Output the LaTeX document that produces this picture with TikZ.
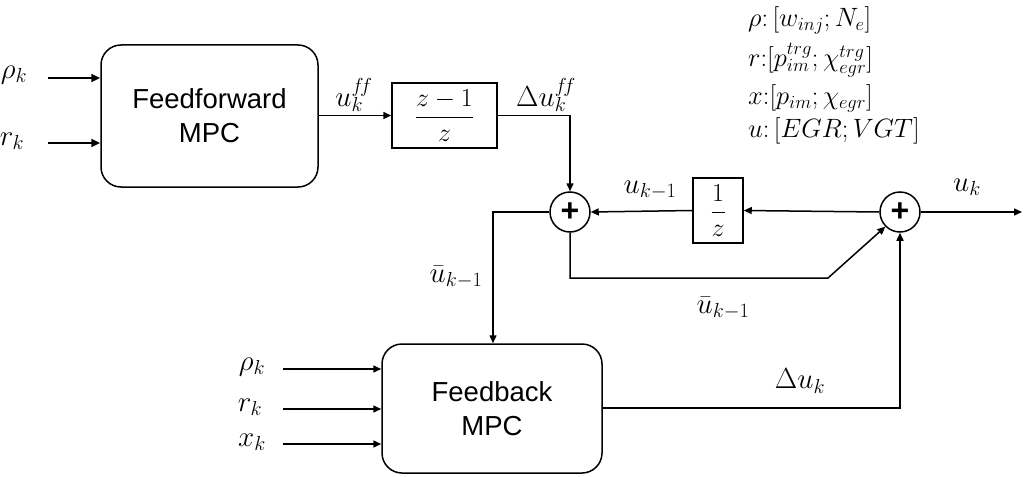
\RequirePackage{fix-cm}
\documentclass[tikz,border=0pt]{standalone}
\usepackage{fontspec}
\setmainfont{Liberation Sans}
\setsansfont{Liberation Sans}
\usetikzlibrary{arrows.meta,calc}
\begin{document}
\begin{tikzpicture}[x=1pt,y=-1pt,
  font=\fontsize{27.5}{34}\selectfont,
  conn/.style={line width=1.5pt,-{Triangle[length=8pt,width=7pt]}},
  thick conn/.style={line width=2.6pt,-{Triangle[length=9pt,width=8pt]}},
  mpc/.style={draw,line width=1.5pt,rounded corners=20pt,align=center,inner sep=0pt},
  blk/.style={draw,line width=1.5pt,inner sep=0pt},
  sum/.style={draw,circle,line width=1.5pt,minimum size=40pt,inner sep=0pt,font=\fontsize{32}{32}\selectfont\bfseries},
  lbl/.style={inner sep=0pt,font=\fontsize{29}{34}\selectfont},
  leg/.style={inner sep=0pt,anchor=west,font=\fontsize{26.5}{30}\selectfont}]
\useasboundingbox (0,0) rectangle (1024,476);
% blocks
\node[mpc,minimum width=217pt,minimum height=142pt] (ff) at (209.5,116) {Feedforward\\MPC};
\node[mpc,minimum width=220pt,minimum height=129pt] (fb) at (492,408.5) {Feedback\\MPC};
\node[blk,minimum width=105pt,minimum height=65pt] (d1) at (444.5,115.5) {\fontsize{26}{30}\selectfont$\displaystyle\frac{z-1}{z}$};
\node[blk,minimum width=50pt,minimum height=65pt] (d2) at (718,210.5) {\fontsize{26}{30}\selectfont$\displaystyle\frac{1}{z}$};
\node[sum] (s1) at (570,212) {\raisebox{-2.5pt}{+}};
\node[sum] (s2) at (900,212) {\raisebox{-2.5pt}{+}};
% top-left inputs
\coordinate (a1) at (48,78);
\coordinate (a2) at (48,143);
\node[lbl] (la1) at (14,75) {$\rho_k$};
\node[lbl] (la2) at (12,141) {$r_k$};
\draw[thick conn] (a1) -- (a1 -| ff.west);
\draw[thick conn] (a2) -- (a2 -| ff.west);
% bottom-left inputs
\coordinate (b1) at (283,369);
\coordinate (b2) at (283,409);
\coordinate (b3) at (283,444);
\node[lbl] (lb1) at (252,367) {$\rho_k$};
\node[lbl] (lb2) at (250,407) {$r_k$};
\node[lbl] (lb3) at (252,442) {$x_k$};
\draw[conn] (b1) -- (b1 -| fb.west);
\draw[conn] (b2) -- (b2 -| fb.west);
\draw[conn] (b3) -- (b3 -| fb.west);
% feedforward path
\draw[conn] (ff.east |- d1) -- (d1.west);
\node[lbl] (luff) at (354,95) {$u_k^{f\!f}$};
\draw[conn] (d1.east) -| (s1.north);
\node[lbl] (lduff) at (546,95) {$\Delta u_k^{f\!f}$};
% delay loop
\draw[conn] (s2.west) -- (d2.east);
\draw[conn] (d2.west) -- (s1.east);
\node[lbl] (lukm) at (650,190) {$u_{k-1}$};
% output
\coordinate (out) at (1022,212);
\draw[conn] (s2.east) -- (out);
\node[lbl] (luk) at (967,187) {$u_k$};
% lower bypass
\coordinate (c2) at (570,278);
\coordinate (c3) at (828,278);
\draw[conn] (s1.south) -- (c2) -- (c3) -- (s2.south west);
\node[lbl] (lubar2) at (723,308) {$\bar u_{k-1}$};
% feedback to MPC
\coordinate (c1) at (493,212);
\draw[conn] (s1.west) -- (c1) -- (c1 |- fb.north);
\node[lbl] (lubar1) at (456,277) {$\bar u_{k-1}$};
% feedback output
\draw[conn] (fb.east |- 0,408) -| (s2.south);
\node[lbl] (lduk) at (800,381) {$\Delta u_k$};
% legend
\node[leg] (lg1) at (748,20) {$\rho\colon[w_{inj};N_e]$};
\node[leg] (lg2) at (748,60) {$r\colon\!\bigl[p_{im}^{trg};\chi_{egr}^{trg}\bigr]$};
\node[leg] (lg3) at (748,98) {$x\colon\!\bigl[p_{im};\chi_{egr}\bigr]$};
\node[leg] (lg4) at (748,131) {$u\colon[EGR;VGT]$};
\end{tikzpicture}
\end{document}
